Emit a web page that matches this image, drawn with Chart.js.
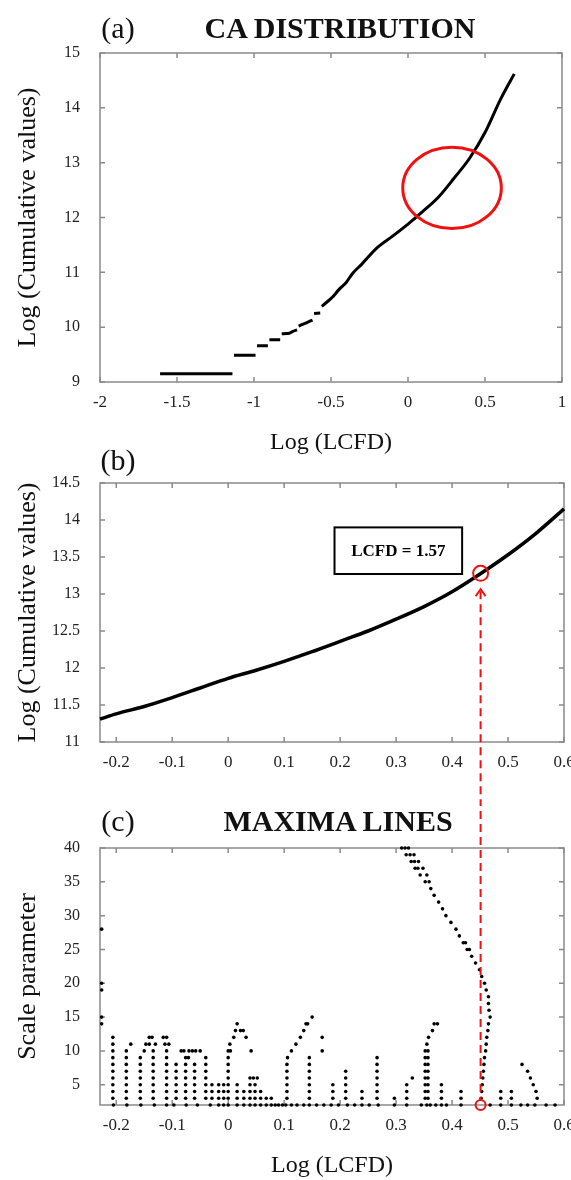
<!DOCTYPE html>
<html>
<head>
<meta charset="utf-8">
<script src="https://cdn.jsdelivr.net/npm/chart.js@4.4.1/dist/chart.umd.min.js"></script>
<style>
  body { margin: 0; background: #fff; width: 571px; height: 1180px; position: relative; overflow: hidden; font-family: "Liberation Serif", serif; color: #111; }
  canvas { position: absolute; left: 0; }
  .lbl { position: absolute; font-size: 30px; line-height: 1; white-space: nowrap; transform: translate(-50%, -50%); z-index: 2; }
  .ttl { font-weight: bold; }
</style>
</head>
<body>
<canvas id="chartA" width="571" height="460" style="top:0"></canvas>
<canvas id="chartB" width="571" height="340" style="top:460px"></canvas>
<canvas id="chartC" width="571" height="380" style="top:800px"></canvas>

<div class="lbl" style="left:118px;top:28px">(a)</div>
<div class="lbl ttl" style="left:340px;top:28px">CA DISTRIBUTION</div>
<div class="lbl" style="left:118px;top:460px">(b)</div>
<div class="lbl" style="left:118px;top:821px">(c)</div>
<div class="lbl ttl" style="left:338px;top:821px">MAXIMA LINES</div>

<script>
// ---- panel (a): cumulative distribution, null = break between steps
const aX = [-1.61, -1.14, -1.135, -1.13, -0.99, -0.985, -0.98, -0.91, -0.905, -0.90, -0.83, -0.825,
            -0.82, -0.77, -0.75, -0.72, -0.715, -0.71, -0.66, -0.62, -0.615, -0.61, -0.57, -0.565,
            -0.56, -0.53, -0.49, -0.45, -0.40, -0.36, -0.30, -0.20, -0.10, 0.00, 0.10, 0.20, 0.30,
            0.40, 0.50, 0.60, 0.69];
const aY = [9.15, 9.15, null, 9.49, 9.49, null, 9.66, 9.66, null, 9.77, 9.77, null,
            9.88, 9.89, 9.92, 9.95, null, 10.02, 10.08, 10.13, null, 10.25, 10.26, null,
            10.38, 10.45, 10.55, 10.68, 10.82, 10.98, 11.15, 11.45, 11.66, 11.88, 12.12, 12.38, 12.72,
            13.08, 13.55, 14.15, 14.62];
const aXTicks = [-2, -1.5, -1, -0.5, 0, 0.5, 1];
const aYTicks = [9, 10, 11, 12, 13, 14, 15];
const aCircle = { x: 0.286, y: 12.54, rx: 0.32, ry: 0.74 };

// ---- panel (b): zoom on the curve
const bX = [-0.229, -0.2, -0.15, -0.1, -0.05, 0, 0.05, 0.1, 0.15, 0.2, 0.25, 0.3, 0.35, 0.4, 0.45, 0.5, 0.55, 0.6];
const bY = [11.31, 11.38, 11.48, 11.6, 11.73, 11.86, 11.97, 12.09, 12.22, 12.36, 12.5, 12.66, 12.83, 13.03, 13.27, 13.53, 13.82, 14.15];
const bXTicks = [-0.2, -0.1, 0, 0.1, 0.2, 0.3, 0.4, 0.5, 0.6];
const bYTicks = [11, 11.5, 12, 12.5, 13, 13.5, 14, 14.5];
const lcfdX = 0.451, lcfdY = 13.28;
const lcfdBox = [0.19, 0.418, 13.27, 13.9];   // x0, x1, y0, y1

// ---- panel (c): maxima lines
const scaleLevels = [3, 4, 5, 6, 7, 8, 9, 10, 11, 12];
const colX   = [-0.206, -0.182, -0.157, -0.134, -0.110, -0.093, -0.076, -0.060, -0.040, -0.029, -0.017, -0.008,
                0.000, 0.016, 0.028, 0.039, 0.048, 0.058, 0.068, 0.077, 0.105, 0.145, 0.187, 0.210,
                0.239, 0.266, 0.297, 0.319, 0.352, 0.357, 0.381, 0.416, 0.487, 0.506];
const colTop = [12, 10, 9, 10, 10, 8, 9, 8, 9, 5, 5, 5,
                10, 5, 4, 6, 5, 4, 3, 3, 8, 9, 5, 7,
                4, 9, 3, 5, 10, 10, 5, 4, 4, 4];
const baseX = [-0.205, -0.181, -0.156, -0.132, -0.110, -0.097, -0.075, -0.055, -0.032, -0.017, -0.008, 0,
               0.016, 0.028, 0.039, 0.048, 0.058, 0.068, 0.077, 0.084, 0.090, 0.097, 0.103, 0.113, 0.123,
               0.135, 0.145, 0.158, 0.171, 0.184, 0.197, 0.213, 0.226, 0.239, 0.252, 0.268, 0.297, 0.319,
               0.345, 0.355, 0.361, 0.371, 0.381, 0.390, 0.416, 0.468, 0.487, 0.506, 0.523, 0.535, 0.548,
               0.568, 0.584];
const extraX = [-0.226, -0.226, -0.226, -0.226, -0.226, -0.174,
                -0.150, -0.147, -0.141, -0.141, -0.136, -0.130,
                -0.116, -0.110, -0.113, -0.106,
                -0.084, -0.079, -0.070, -0.064, -0.058, -0.050, -0.071,
                0.004, 0.003, 0.010, 0.013, 0.016, 0.022, 0.027, 0.032, 0.041, 0.045, 0.052,
                0.106, 0.113, 0.121, 0.129, 0.135, 0.139, 0.142, 0.150, 0.168, 0.168, 0.329,
                0.355, 0.358, 0.365, 0.368, 0.374,
                0.525, 0.535, 0.540, 0.545, 0.550, 0.552];
const extraS = [28, 20, 19, 15, 14, 11,
                10, 11, 11, 12, 12, 11,
                12, 12, 11, 11,
                10, 10, 10, 10, 10, 10, 9,
                10, 11, 12, 13, 14, 13, 13, 12, 10, 6, 6,
                9, 10, 11, 12, 13, 14, 14, 15, 12, 10, 6,
                11, 12, 13, 14, 14,
                8, 7, 6, 5, 4, 3];
const mainX = [0.310, 0.316, 0.322, 0.318, 0.325, 0.332, 0.327, 0.333, 0.340, 0.334, 0.339, 0.348,
               0.343, 0.355, 0.352, 0.359, 0.362, 0.368, 0.376, 0.383, 0.389, 0.398, 0.407, 0.413,
               0.420, 0.424, 0.427, 0.431, 0.435, 0.442, 0.449, 0.453, 0.458, 0.461, 0.465, 0.465,
               0.466, 0.468, 0.465, 0.464, 0.462, 0.461, 0.460, 0.458, 0.457, 0.456, 0.455, 0.454,
               0.453, 0.452];
const mainS = [40, 40, 40, 39, 39, 39, 38, 38, 38, 37, 37, 37,
               36, 36, 35, 35, 34, 33, 32, 31, 30, 29, 28, 27,
               26, 26, 25, 25, 24, 23, 22, 21, 20, 19, 18, 17,
               16, 15, 14, 13, 12, 11, 10, 9, 8, 7, 6, 5,
               4, 3];
const cYTicks = [5, 10, 15, 20, 25, 30, 35, 40];

// ---------------------------------------------------------------
Chart.defaults.font.family = "'Liberation Serif', serif";
Chart.defaults.color = '#222';
const GRAY = '#8a8a8a';

function frame(xTicks, yTicks) {
  return {
    id: 'frame',
    beforeDatasetsDraw(chart) {
      const { ctx, chartArea: a, scales: { x, y } } = chart;
      ctx.save();
      ctx.strokeStyle = GRAY;
      ctx.lineWidth = 1.5;
      ctx.strokeRect(a.left, a.top, a.right - a.left, a.bottom - a.top);
      ctx.beginPath();
      xTicks.forEach(v => {
        const p = x.getPixelForValue(v);
        ctx.moveTo(p, a.bottom); ctx.lineTo(p, a.bottom - 5);
        ctx.moveTo(p, a.top); ctx.lineTo(p, a.top + 5);
      });
      yTicks.forEach(v => {
        const p = y.getPixelForValue(v);
        ctx.moveTo(a.left, p); ctx.lineTo(a.left + 5, p);
        ctx.moveTo(a.right, p); ctx.lineTo(a.right - 5, p);
      });
      ctx.stroke();
      ctx.restore();
    }
  };
}

const plain = v => String(v);

function xAxis(min, max, ticks, height, title, titlePad) {
  return {
    type: 'linear', min, max,
    afterBuildTicks: s => { s.ticks = ticks.map(v => ({ value: v })); },
    afterFit: s => { s.height = height; s.paddingLeft = 0; s.paddingRight = 0; },
    grid: { display: false, drawTicks: false },
    border: { display: false },
    ticks: { padding: 10, maxRotation: 0, autoSkip: false, font: { size: 17 }, color: '#222', callback: plain },
    title: { display: !!title, text: title, font: { size: 24 }, color: '#111', padding: { top: 0, bottom: titlePad } }
  };
}

function yAxis(min, max, ticks, title) {
  return {
    type: 'linear', min, max,
    afterBuildTicks: s => { s.ticks = ticks.map(v => ({ value: v })); },
    afterFit: s => { s.width = 100; s.paddingTop = 0; s.paddingBottom = 0; },
    grid: { display: false, drawTicks: false },
    border: { display: false },
    ticks: { padding: 20, autoSkip: false, font: { size: 16 }, color: '#222', callback: plain },
    title: { display: true, text: title, font: { size: 26 }, color: '#111', padding: { top: 13, bottom: 0 } }
  };
}

const base = { responsive: false, animation: false, devicePixelRatio: 1,
  plugins: { legend: { display: false }, tooltip: { enabled: false } } };

// (a)
const ellipseA = {
  id: 'ellipseA',
  afterDatasetsDraw(chart) {
    const { ctx, scales: { x, y } } = chart;
    const cx = x.getPixelForValue(aCircle.x), cy = y.getPixelForValue(aCircle.y);
    const rx = x.getPixelForValue(aCircle.x + aCircle.rx) - cx;
    const ry = cy - y.getPixelForValue(aCircle.y + aCircle.ry);
    ctx.save();
    ctx.strokeStyle = '#f01010';
    ctx.lineWidth = 3;
    ctx.beginPath();
    ctx.ellipse(cx, cy, rx, ry, 0, 0, Math.PI * 2);
    ctx.stroke();
    ctx.restore();
  }
};

new Chart(document.getElementById('chartA'), {
  type: 'line',
  data: { datasets: [{
    data: aX.map((v, i) => ({ x: v, y: aY[i] })),
    borderColor: '#000', borderWidth: 3, pointRadius: 0,
    cubicInterpolationMode: 'monotone', spanGaps: false, clip: false
  }] },
  options: { ...base,
    layout: { padding: { top: 53, right: 9, left: 0, bottom: 0 } },
    scales: { x: xAxis(-2, 1, aXTicks, 78, 'Log (LCFD)', 3), y: yAxis(9, 15, aYTicks, 'Log (Cumulative values)') }
  },
  plugins: [frame(aXTicks, aYTicks), ellipseA]
});

// (b)
const markB = {
  id: 'markB',
  afterDatasetsDraw(chart) {
    const { ctx, scales: { x, y } } = chart;
    const bx0 = x.getPixelForValue(lcfdBox[0]), bx1 = x.getPixelForValue(lcfdBox[1]);
    const by0 = y.getPixelForValue(lcfdBox[3]), by1 = y.getPixelForValue(lcfdBox[2]);
    ctx.save();
    ctx.fillStyle = '#fff';
    ctx.fillRect(bx0, by0, bx1 - bx0, by1 - by0);
    ctx.strokeStyle = '#000';
    ctx.lineWidth = 2;
    ctx.strokeRect(bx0, by0, bx1 - bx0, by1 - by0);
    ctx.fillStyle = '#000';
    ctx.font = "bold 17px 'Liberation Serif', serif";
    ctx.textAlign = 'center';
    ctx.textBaseline = 'middle';
    ctx.fillText('LCFD = 1.57', (bx0 + bx1) / 2, (by0 + by1) / 2 + 1);

    const cx = x.getPixelForValue(lcfdX), cy = y.getPixelForValue(lcfdY);
    ctx.strokeStyle = '#f01010';
    ctx.lineWidth = 2;
    ctx.beginPath();
    ctx.arc(cx, cy, 7.5, 0, Math.PI * 2);
    ctx.stroke();
    const tip = cy + 16;
    ctx.beginPath();
    ctx.moveTo(cx - 5, tip + 7); ctx.lineTo(cx, tip); ctx.lineTo(cx + 5, tip + 7);
    ctx.stroke();
    ctx.setLineDash([8, 5]);
    ctx.beginPath();
    ctx.moveTo(cx, tip + 2); ctx.lineTo(cx, chart.height);
    ctx.stroke();
    ctx.restore();
  }
};

new Chart(document.getElementById('chartB'), {
  type: 'line',
  data: { datasets: [{
    data: bX.map((v, i) => ({ x: v, y: bY[i] })),
    borderColor: '#000', borderWidth: 3.5, pointRadius: 0,
    cubicInterpolationMode: 'monotone', clip: false
  }] },
  options: { ...base,
    layout: { padding: { top: 23, right: 7, left: 0, bottom: 0 } },
    scales: { x: xAxis(-0.229, 0.6, bXTicks, 58, '', 0), y: yAxis(11, 14.5, bYTicks, 'Log (Cumulative values)') }
  },
  plugins: [frame(bXTicks, bYTicks), markB]
});

// (c)
const dots = [];
colX.forEach((v, i) => scaleLevels.filter(s => s <= colTop[i]).forEach(s => dots.push({ x: v, y: s })));
baseX.forEach(v => dots.push({ x: v, y: 2 }));
extraX.forEach((v, i) => dots.push({ x: v, y: extraS[i] }));
mainX.forEach((v, i) => dots.push({ x: v, y: mainS[i] }));

const markC = {
  id: 'markC',
  afterDatasetsDraw(chart) {
    const { ctx, scales: { x, y } } = chart;
    const cx = x.getPixelForValue(lcfdX), cy = y.getPixelForValue(2);
    ctx.save();
    ctx.strokeStyle = '#f01010';
    ctx.lineWidth = 2;
    ctx.setLineDash([8, 5]);
    ctx.lineDashOffset = 2;
    ctx.beginPath();
    ctx.moveTo(cx, 0); ctx.lineTo(cx, cy - 6);
    ctx.stroke();
    ctx.setLineDash([]);
    ctx.beginPath();
    ctx.arc(cx, cy, 5, 0, Math.PI * 2);
    ctx.stroke();
    ctx.restore();
  }
};

new Chart(document.getElementById('chartC'), {
  type: 'scatter',
  data: { datasets: [{
    data: dots,
    backgroundColor: '#000', borderWidth: 0, pointRadius: 1.8, clip: false
  }] },
  options: { ...base,
    layout: { padding: { top: 48, right: 7, left: 0, bottom: 0 } },
    scales: { x: xAxis(-0.229, 0.6, bXTicks, 75, 'Log (LCFD)', 0), y: yAxis(2, 40, cYTicks, 'Scale parameter') }
  },
  plugins: [frame(bXTicks, cYTicks), markC]
});
</script>
</body>
</html>
